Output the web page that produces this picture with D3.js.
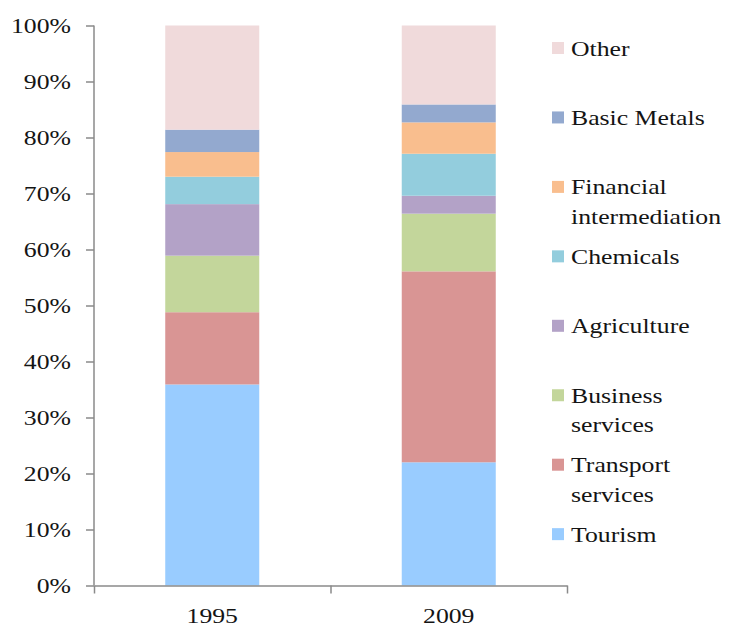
<!DOCTYPE html>
<html>
<head>
<meta charset="utf-8">
<script src="https://cdn.jsdelivr.net/npm/d3@7"></script>
<style>
  html, body { margin: 0; padding: 0; background: #fff; }
  svg { display: block; }
  text { font-family: "Liberation Serif", "Times New Roman", serif; fill: #141414; }
</style>
</head>
<body>
<svg id="svg" width="729" height="628"></svg>
<script>
// categories and series (shares in %)
var years = ["1995", "2009"];
var sectors = ["Tourism", "Transport services", "Business services", "Agriculture",
               "Chemicals", "Financial intermediation", "Basic Metals", "Other"];
var tourism = [35.9, 22.0];
var transport = [12.9, 34.1];
var business = [10.1, 10.3];
var agriculture = [9.2, 3.2];
var chemicals = [4.9, 7.5];
var financial = [4.4, 5.6];
var basicMetals = [4.0, 3.2];
var other = [18.6, 14.1];
var yTicks = [0, 10, 20, 30, 40, 50, 60, 70, 80, 90, 100];
var legendLines = {
    "Tourism": ["Tourism"],
    "Transport services": ["Transport", "services"],
    "Business services": ["Business", "services"],
    "Agriculture": ["Agriculture"],
    "Chemicals": ["Chemicals"],
    "Financial intermediation": ["Financial", "intermediation"],
    "Basic Metals": ["Basic Metals"],
    "Other": ["Other"]
};

var colors = ["#99ccff", "#d99594", "#c3d69b", "#b3a2c7", "#93cddd", "#f9be8e", "#93a9cf", "#f0dadb"];
var seriesValues = [tourism, transport, business, agriculture, chemicals, financial, basicMetals, other];

var table = years.map(function (y, i) {
    var row = {year: y};
    sectors.forEach(function (s, j) { row[s] = seriesValues[j][i]; });
    return row;
});

var svg = d3.select("svg"),
        axisColor = "#8a8a8a",
        stretch = 1.17,
        fontSize = 22;

var color = d3.scaleOrdinal().domain(sectors).range(colors);

var y = d3.scaleLinear().domain([0, 100]).range([585.5, 25.5]);

var x = d3.scaleBand()
        .domain(years)
        .range([94, 567])
        .paddingInner(0.6025)
        .paddingOuter(0.30125);

// band boundaries for the category axis ticks
var xEdge = d3.scaleLinear().domain([0, years.length]).range(x.range());

var stacked = d3.stack().keys(sectors)(table);

// bars
svg.append("g")
        .selectAll("g")
        .data(stacked)
        .enter().append("g")
        .attr("fill", function (d) { return color(d.key); })
        .selectAll("rect")
        .data(function (d) { return d; })
        .enter().append("rect")
        .attr("x", function (d) { return x(d.data.year); })
        .attr("width", x.bandwidth())
        .attr("y", function (d) { return y(d[1]); })
        .attr("height", function (d) { return y(d[0]) - y(d[1]); });

// y axis
var yAxis = svg.append("g")
        .attr("transform", "translate(94,0)")
        .call(d3.axisLeft(y)
                .tickValues(yTicks)
                .tickSize(8)
                .tickPadding(12)
                .tickFormat(function (d) { return d + "%"; }));
yAxis.selectAll("path, line").attr("stroke", axisColor).attr("stroke-width", 1.5);
yAxis.select(".domain").attr("d", "M0," + y(100) + "V" + y(0));
yAxis.selectAll("text")
        .attr("font-size", fontSize)
        .attr("font-family", "Liberation Serif")
        .attr("fill", "#141414")
        .attr("transform", "scale(" + stretch + ",1)")
        .attr("x", -23 / stretch);

// x axis (ticks on band edges)
var xAxis = svg.append("g")
        .attr("transform", "translate(0," + y(0) + ")")
        .call(d3.axisBottom(xEdge)
                .tickValues(d3.range(years.length + 1))
                .tickSize(8)
                .tickSizeOuter(0)
                .tickFormat(""));
xAxis.selectAll("path, line").attr("stroke", axisColor).attr("stroke-width", 1.5);

svg.append("g")
        .selectAll("text")
        .data(years)
        .enter().append("text")
        .attr("text-anchor", "middle")
        .attr("font-size", fontSize)
        .attr("transform", function (d) {
            return "translate(" + (x(d) + x.bandwidth() / 2) + ",622.5) scale(" + stretch + ",1)";
        })
        .text(function (d) { return d; });

// legend, reversed order (top = Other)
var legendOrder = sectors.slice().reverse();
var legend = svg.append("g")
        .selectAll("g")
        .data(legendOrder)
        .enter().append("g")
        .attr("transform", function (d, i) {
            return "translate(0," + (55.5 + i * 69.45) + ")";
        });

legend.append("rect")
        .attr("x", 552)
        .attr("y", -13.5)
        .attr("width", 12)
        .attr("height", 12)
        .attr("fill", function (d) { return color(d); });

legend.append("text")
        .attr("font-size", fontSize)
        .attr("transform", "translate(571,0) scale(" + stretch + ",1)")
        .selectAll("tspan")
        .data(function (d) { return legendLines[d]; })
        .enter().append("tspan")
        .attr("x", 0)
        .attr("y", function (d, i) { return i * 29.5; })
        .text(function (d) { return d; });
</script>
</body>
</html>
